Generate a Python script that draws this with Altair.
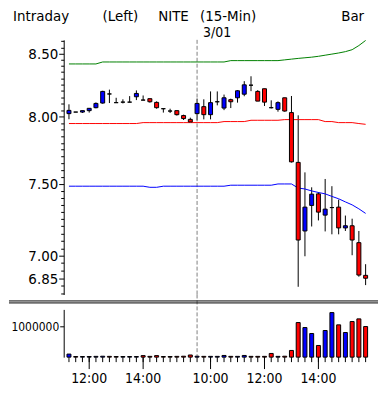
import altair as alt
import pandas as pd

# ---------------- data ----------------
opens = [8.023, 8.035, 8.035, 8.046, 8.069, 8.105, 8.176, 8.108, 8.112, 8.112,
         8.154, 8.128, 8.139, 8.110, 8.061, 8.043, 8.046, 8.008, 7.979,
         8.023, 8.077, 8.015, 8.115, 8.066, 8.131, 8.146, 8.174, 8.245, 8.196,
         8.217, 8.069, 8.056, 8.146, 8.031, 7.656, 7.168, 7.346, 7.428, 7.278,
         7.331, 7.334, 7.189, 7.204, 7.088, 6.869]
highs = [8.095, 8.035, 8.046, 8.064, 8.110, 8.201, 8.210, 8.146, 8.134, 8.159,
         8.204, 8.164, 8.139, 8.118, 8.061, 8.061, 8.046, 8.015, 7.992,
         8.140, 8.134, 8.196, 8.196, 8.171, 8.139, 8.206, 8.277, 8.316, 8.206,
         8.217, 8.126, 8.118, 8.146, 8.160, 8.010, 7.583, 7.475, 7.440, 7.535,
         7.483, 7.387, 7.275, 7.253, 7.168, 6.943]
lows = [7.980, 8.035, 8.028, 8.031, 8.064, 8.100, 8.105, 8.108, 8.102, 8.112,
        8.128, 8.128, 8.108, 8.061, 8.031, 8.028, 8.008, 7.974, 7.959,
        7.972, 7.979, 7.979, 8.087, 8.050, 8.066, 8.108, 8.158, 8.198, 8.120,
        8.082, 8.063, 8.038, 8.038, 7.655, 6.794, 6.996, 7.199, 7.241, 7.165,
        7.145, 7.145, 7.168, 7.003, 6.860, 6.805]
closes = [8.048, 8.035, 8.046, 8.064, 8.102, 8.196, 8.176, 8.108, 8.112, 8.112,
          8.180, 8.128, 8.115, 8.069, 8.061, 8.043, 8.015, 7.985, 7.959,
          8.102, 8.015, 8.108, 8.115, 8.146, 8.115, 8.201, 8.248, 8.245, 8.120,
          8.112, 8.069, 8.108, 8.043, 7.660, 7.106, 7.334, 7.426, 7.299, 7.320,
          7.331, 7.189, 7.204, 7.106, 6.871, 6.850]
volumes = [100000, 20000, 20000, 20000, 25000, 30000, 25000, 20000, 20000, 20000,
           20000, 50000, 25000, 50000, 20000, 20000, 25000, 30000, 70000,
           30000, 25000, 25000, 25000, 55000, 25000, 25000, 55000, 25000, 25000,
           25000, 120000, 25000, 30000, 218000, 1130000, 967000, 772000, 381000, 870000,
           1456000, 1055000, 805000, 1163000, 1250000, 1000000]
upper_band = [8.415, 8.415, 8.415, 8.415, 8.415, 8.431, 8.431, 8.431, 8.431, 8.431,
              8.431, 8.431, 8.431, 8.431, 8.431, 8.431, 8.431, 8.431, 8.431,
              8.431, 8.431, 8.431, 8.431, 8.431, 8.442, 8.442, 8.442, 8.442, 8.442,
              8.442, 8.442, 8.442, 8.448, 8.454, 8.460, 8.465, 8.470, 8.477, 8.486,
              8.495, 8.504, 8.515, 8.531, 8.565, 8.607]
middle_band = [7.947, 7.947, 7.947, 7.947, 7.947, 7.947, 7.947, 7.947, 7.947, 7.947,
               7.947, 7.954, 7.954, 7.954, 7.954, 7.954, 7.954, 7.954, 7.954,
               7.954, 7.954, 7.954, 7.954, 7.962, 7.962, 7.962, 7.962, 7.972, 7.972,
               7.972, 7.972, 7.972, 7.977, 7.977, 7.977, 7.977, 7.977, 7.977, 7.962,
               7.962, 7.954, 7.954, 7.954, 7.947, 7.941]
lower_band = [7.483, 7.483, 7.483, 7.483, 7.483, 7.483, 7.483, 7.483, 7.483, 7.483,
              7.483, 7.483, 7.475, 7.475, 7.483, 7.483, 7.483, 7.483, 7.483,
              7.483, 7.483, 7.483, 7.483, 7.483, 7.490, 7.490, 7.490, 7.490, 7.490,
              7.490, 7.490, 7.499, 7.499, 7.499, 7.470, 7.463, 7.449, 7.438, 7.428,
              7.410, 7.393, 7.371, 7.350, 7.322, 7.290]

x_label_idx = [3, 11, 21, 29, 37]
x_labels = ["12:00", "14:00", "10:00", "12:00", "14:00"]
session_break_idx = 19
session_date = "3/01"
price_label_values = [6.85, 7.00, 7.50, 8.00, 8.50]
price_minor_values = [round(6.75 + 0.05 * k, 2) for k in range(38)]
volume_label_values = [1000000]
header_texts = ["Intraday", "(Left)", "NITE", "(15-Min)", "Bar"]

# ---------------- frame ----------------
n = len(opens)
df = pd.DataFrame({
    "i": list(range(n)), "open": opens, "high": highs, "low": lows,
    "close": closes, "volume": volumes,
    "upper": upper_band, "mid": middle_band, "lower": lower_band,
})
df["dir"] = ["up" if c > o else ("down" if c < o else "flat") for o, c in zip(opens, closes)]
df["vdir"] = ["up"] + ["up" if c >= p else "down" for c, p in zip(closes[1:], closes[:-1])]
lab_df = pd.DataFrame({"i": x_label_idx, "t": x_labels})
brk = pd.DataFrame({"i": [session_break_idx], "t": [session_date]})

FONT = "DejaVu Sans Condensed"
W = 316
H_PRICE = 256
H_VOL = 48
GAP = 15
LEFT = 55
STEP = 7.0
x_lo = -0.043
x_hi = x_lo + W / STEP

xs = alt.Scale(domain=[x_lo, x_hi], nice=False, zero=False)
col_scale = alt.Scale(domain=["up", "down", "flat"], range=["#0000FF", "#FF0000", "#000000"])
X = alt.X("i:Q", scale=xs, axis=None)

base = alt.Chart(df)

# ---------------- price panel ----------------
major_list = "[" + ",".join(str(v) for v in price_label_values) + "]"
y_price = alt.Y(
    "low:Q",
    scale=alt.Scale(type="log", domain=[6.744, 8.612], nice=False),
    axis=alt.Axis(
        values=price_minor_values,
        labelExpr=f"indexof({major_list}, datum.value) >= 0 ? format(datum.value, '.2f') : ''",
        tickSize={"condition": {"test": f"indexof({major_list}, datum.value) >= 0", "value": 5}, "value": 3},
        labelPadding=1, labelOverlap=False, labelFontSize=15, title=None, grid=False,
    ),
)

session_rule = alt.Chart(brk).mark_rule(color="#808080", strokeDash=[4, 2]).encode(x=X)
date_text = alt.Chart(brk).mark_text(
    align="left", baseline="alphabetic", dx=6, font=FONT, fontSize=14, color="black"
).encode(x=X, y=alt.value(-3), text="t:N")

band_upper = base.mark_line(color="#008000", strokeWidth=1).encode(x=X, y=alt.Y("upper:Q"))
band_mid = base.mark_line(color="#FF0000", strokeWidth=1).encode(x=X, y=alt.Y("mid:Q"))
band_low = base.mark_line(color="#0000FF", strokeWidth=1).encode(x=X, y=alt.Y("lower:Q"))

wicks = base.mark_rule(color="black", strokeWidth=1).encode(x=X, y=y_price, y2="high:Q")
bodies = base.mark_bar(size=4, stroke="black", strokeWidth=1).encode(
    x=X, y=alt.Y("open:Q"), y2="close:Q",
    color=alt.Color("dir:N", scale=col_scale, legend=None),
)

header_x = [-51, 39, 95, 137, 279]
headers = [
    alt.Chart(pd.DataFrame({"t": [t]})).mark_text(
        align="left", baseline="alphabetic", font=FONT, fontSize=15, color="black"
    ).encode(x=alt.value(hx), y=alt.value(-19), text="t:N")
    for t, hx in zip(header_texts, header_x)
]

price = alt.layer(
    wicks, session_rule, band_upper, band_mid, band_low, bodies, date_text, *headers
).properties(width=W, height=H_PRICE)

# ---------------- volume panel ----------------
X_vol = alt.X("i:Q", scale=xs,
              axis=alt.Axis(labels=False, ticks=False, domain=True, grid=False, title=None))
Y_vol = alt.Y(
    "volume:Q", scale=alt.Scale(domain=[0, 1560000], nice=False),
    axis=alt.Axis(values=volume_label_values, labelExpr="format(datum.value, 'd')",
                  tickSize=4, labelPadding=1, labelFontSize=12, title=None, grid=False),
)
vol_bars = base.mark_bar(size=4, stroke="black", strokeWidth=1).encode(
    x=X_vol, y=Y_vol, color=alt.Color("vdir:N", scale=col_scale, legend=None)
)
short_ticks = base.mark_rule(color="black", strokeWidth=1).encode(
    x=X, y=alt.value(H_VOL), y2=alt.value(H_VOL + 5)
)
long_ticks = alt.Chart(lab_df).mark_rule(color="black", strokeWidth=1).encode(
    x=X, y=alt.value(H_VOL), y2=alt.value(H_VOL + 12)
)
time_labels = alt.Chart(lab_df).mark_text(
    align="center", baseline="alphabetic", font=FONT, fontSize=14, color="black"
).encode(x=X, y=alt.value(H_VOL + 26), text="t:N")
vol_session = alt.Chart(brk).mark_rule(color="#808080", strokeDash=[4, 2]).encode(
    x=X, y=alt.value(-GAP), y2=alt.value(H_VOL)
)
sep_df = pd.DataFrame({"k": [0]})
sep1 = alt.Chart(sep_df).mark_rule(color="black", strokeWidth=1).encode(
    x=alt.value(-LEFT), x2=alt.value(W), y=alt.value(-8.5)
)
sep2 = alt.Chart(sep_df).mark_rule(color="black", strokeWidth=1).encode(
    x=alt.value(-LEFT), x2=alt.value(W), y=alt.value(-6.5)
)
volume = alt.layer(
    vol_session, vol_bars, short_ticks, long_ticks, time_labels, sep1, sep2
).properties(width=W, height=H_VOL)

chart = alt.vconcat(price, volume, spacing=GAP, bounds="flush").properties(
    padding={"left": 0, "top": 0, "right": 0, "bottom": 0},
    background="white",
).configure_view(strokeWidth=0).configure_axis(
    labelFont=FONT, labelColor="black", domainColor="black", tickColor="black",
    domainWidth=1, tickWidth=1,
)

chart.save("out.html", embed_options={"renderer": "svg", "actions": False})
